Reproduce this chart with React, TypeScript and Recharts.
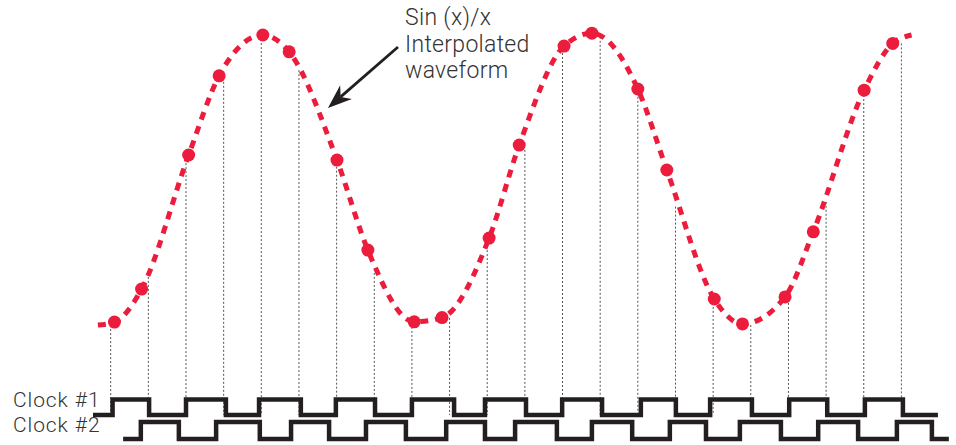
import { ComposedChart, Line, ReferenceLine, Scatter, XAxis, YAxis } from "recharts";

// x unit = one dotted guide spacing (half a sample clock period), guide k sits at t = k
// y unit: waveform amplitude, 0 = trough, 100 = crest; clocks drawn below zero

const sampleT = [0.1, 0.82, 2.07, 2.88, 4.04, 4.74, 6.01, 6.83, 8.06, 8.8, 10.05, 10.85, 12.04, 12.78, 14.0, 14.77, 16.03, 16.78, 17.91, 18.66, 20.01, 20.77];
const sampleV = [4.3, 15.3, 60, 86.4, 100, 94.4, 58.3, 28.3, 4.4, 5.8, 32.3, 63.3, 96.3, 100.6, 82, 55, 12, 3.7, 12.7, 34.4, 81.6, 97.2];

// where the dashed trace begins and ends beyond the first/last sample
const waveStart = { t: -0.34, v: 3.3 };
const waveEnd = { t: 21.27, v: 100 };

// top of each dotted guide (where it meets the trace)
const guideTop = [3.3, 20.7, 57.3, 84.4, 97.3, 88.3, 56.1, 20.7, 2.7, 5.7, 28.3, 61.7, 94, 99.4, 79.4, 42.8, 10.7, 3.3, 10.7, 44.4, 80, 97.2];

const CLK1_HIGH = -21.5;
const CLK1_LOW = -26.7;
const CLK2_HIGH = -29;
const CLK2_LOW = -34.7;

const clock1Start = -0.47;
const clock1End = 21.97;
const clock1Edges = [0.05, 1.02, 2.0, 3.06, 3.94, 5.05, 5.98, 7.02, 8.0, 9.12, 9.94, 11.03, 11.99, 13.05, 14.08, 15.01, 15.92, 17.03, 18.02, 19.03, 20.03, 21.04];

const clock2Start = 0.33;
const clock2End = 22.26;
const clock2Edges = [0.8, 1.81, 2.8, 3.96, 4.79, 5.8, 6.78, 7.84, 8.91, 9.94, 10.74, 11.85, 12.78, 13.85, 14.85, 15.81, 16.71, 17.8, 18.79, 19.85, 20.88, 21.81];

// annotation arrow, tail -> tip
const arrowFrom = { t: 7.63, v: 96 };
const arrowTo = { t: 5.77, v: 75.7 };

const RED = "#ec1c3d";
const INK = "#231f20";

function clockPoints(start: number, edges: number[], end: number, low: number, high: number) {
  const pts = [{ t: start, c: low }];
  edges.forEach((t, i) => pts.push({ t, c: i % 2 === 0 ? high : low }));
  pts.push({ t: end, c: pts[pts.length - 1].c });
  return pts;
}

const samples = sampleT.map((t, i) => ({ t, v: sampleV[i] }));
const trace = [waveStart, ...samples, waveEnd];
const clock1 = clockPoints(clock1Start, clock1Edges, clock1End, CLK1_LOW, CLK1_HIGH);
const clock2 = clockPoints(clock2Start, clock2Edges, clock2End, CLK2_LOW, CLK2_HIGH);

function Arrow(props: any) {
  const { x1, y1, x2, y2 } = props;
  const a = Math.atan2(y2 - y1, x2 - x1);
  const cos = Math.cos(a);
  const sin = Math.sin(a);
  const len = 24;
  const half = 9;
  const bx = x2 - len * cos;
  const by = y2 - len * sin;
  const nx = x2 - len * 0.7 * cos;
  const ny = y2 - len * 0.7 * sin;
  const head = [
    [x2, y2],
    [bx - half * sin, by + half * cos],
    [nx, ny],
    [bx + half * sin, by - half * cos]
  ]
    .map((p) => p.join(","))
    .join(" ");
  return (
    <g>
      <line x1={x1} y1={y1} x2={nx} y2={ny} stroke={INK} strokeWidth={2.8} />
      <polygon points={head} fill={INK} />
    </g>
  );
}

const textStyle: React.CSSProperties = {
  position: "absolute",
  fontFamily: "Roboto, sans-serif",
  fontWeight: 300,
  color: "#333",
  whiteSpace: "nowrap"
};

export default function App() {
  return (
    <div style={{ position: "absolute", left: 0, top: 0, width: 956, height: 445, background: "#fff" }}>
      <ComposedChart width={956} height={445} margin={{ top: 23, right: 0, bottom: 2, left: 0 }}>
        <XAxis type="number" dataKey="t" domain={[-2.94, 22.45]} allowDataOverflow hide />
        <YAxis type="number" domain={[-36, 104]} allowDataOverflow hide />
        {guideTop.map((top, k) => (
          <ReferenceLine
            key={k}
            segment={[
              { x: k, y: top },
              { x: k, y: CLK1_LOW }
            ]}
            stroke="#555"
            strokeWidth={1}
            strokeDasharray="2 2"
          />
        ))}
        <Line
          data={clock1}
          dataKey="c"
          type="stepAfter"
          stroke={INK}
          strokeWidth={4.5}
          dot={false}
          activeDot={false}
          isAnimationActive={false}
        />
        <Line
          data={clock2}
          dataKey="c"
          type="stepAfter"
          stroke={INK}
          strokeWidth={4.5}
          dot={false}
          activeDot={false}
          isAnimationActive={false}
        />
        <Line
          data={trace}
          dataKey="v"
          type="monotone"
          stroke={RED}
          strokeWidth={5}
          strokeDasharray="8 7"
          dot={false}
          activeDot={false}
          isAnimationActive={false}
        />
        <Scatter
          data={samples}
          dataKey="v"
          fill={RED}
          isAnimationActive={false}
          shape={(p: any) => <circle cx={p.cx} cy={p.cy} r={6.5} fill={RED} />}
        />
        <ReferenceLine
          segment={[
            { x: arrowFrom.t, y: arrowFrom.v },
            { x: arrowTo.t, y: arrowTo.v }
          ]}
          shape={Arrow}
        />
      </ComposedChart>
      <div style={{ ...textStyle, left: 405, top: 5, fontSize: 23, lineHeight: "26.5px", letterSpacing: 0.3 }}>
        Sin (x)/x
        <br />
        Interpolated
        <br />
        waveform
      </div>
      <div style={{ ...textStyle, left: 13, top: 390, fontSize: 21, lineHeight: "21px", letterSpacing: 0.9 }}>Clock #1</div>
      <div style={{ ...textStyle, left: 13, top: 415, fontSize: 21, lineHeight: "21px", letterSpacing: 0.9 }}>Clock #2</div>
    </div>
  );
}
